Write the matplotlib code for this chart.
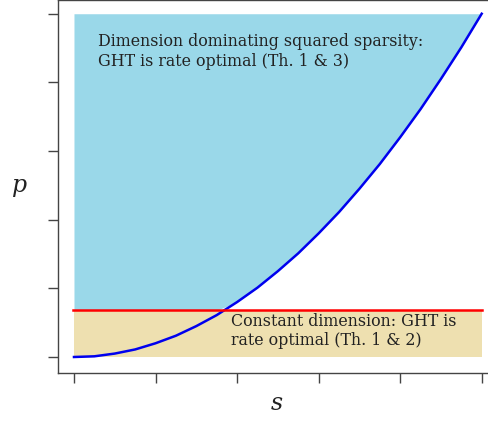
import matplotlib
matplotlib.use("Agg")
import matplotlib.pyplot as plt

# boundary curve (p grows like squared sparsity)
s_vals = [0, 0.25, 0.5, 0.75, 1.0, 1.25, 1.5, 1.75, 2.0, 2.25, 2.5, 2.75,
          3.0, 3.25, 3.5, 3.75, 4.0, 4.25, 4.5, 4.75, 5.0]
p_vals = [0, 0.01, 0.05, 0.11, 0.2, 0.31, 0.45, 0.61, 0.8, 1.01, 1.25, 1.51,
          1.8, 2.11, 2.45, 2.81, 3.2, 3.61, 4.05, 4.51, 5.0]
p_const = 0.68   # constant-dimension level (red line)
p_top = 5.0

x_ticks = [0, 1, 2, 3, 4, 5]
y_ticks = [0, 1, 2, 3, 4, 5]

label_high = "Dimension dominating squared sparsity:\nGHT is rate optimal (Th. 1 & 3)"
label_low = "Constant dimension: GHT is\nrate optimal (Th. 1 & 2)"

fig = plt.figure(figsize=(4.88, 4.21), dpi=100)
ax = fig.add_axes([58 / 488, 48 / 421, 440 / 488, 373 / 421])

upper = [max(p, p_const) for p in p_vals]
ax.fill_between(s_vals, upper, p_top, color="#9ad8e9", linewidth=0)
ax.fill_between([s_vals[0], s_vals[-1]], 0, p_const, color="#eee0b0", linewidth=0)
ax.plot(s_vals, p_vals, color="#0000ee", lw=1.8)
ax.plot([-0.01, s_vals[-1]], [p_const, p_const], color="red", lw=1.8)

ax.text(0.29, 4.72, label_high, family="DejaVu Serif", fontsize=11.4,
        color="#222222", va="top", ha="left", linespacing=1.2)
ax.text(1.92, 0.64, label_low, family="DejaVu Serif", fontsize=11.4,
        color="#222222", va="top", ha="left", linespacing=1.15)

ax.set_xlim(-0.196, 5.2)
ax.set_ylim(-0.233, 5.2)
ax.set_xticks(x_ticks)
ax.set_yticks(y_ticks)
ax.set_xticklabels([])
ax.set_yticklabels([])
ax.tick_params(length=7, width=1, color="#444444", direction="out")
for sp in ax.spines.values():
    sp.set_color("#444444")
    sp.set_linewidth(1)

fig.text(20 / 488, 1 - 186 / 421, "p", family="DejaVu Serif", style="italic",
         fontsize=17, ha="center", va="center", color="#222222")
fig.text(277 / 488, 1 - 403 / 421, "s", family="DejaVu Serif", style="italic",
         fontsize=17, ha="center", va="center", color="#222222")

fig.savefig("out.png", dpi=100)
